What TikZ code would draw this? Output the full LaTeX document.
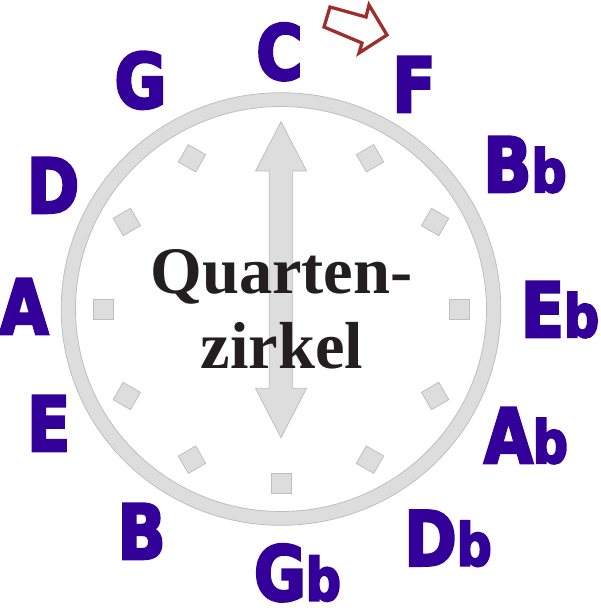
\documentclass[tikz,border=0pt]{standalone}
\usepackage{fontspec}
\setmainfont{Liberation Serif}
\newfontfamily\notefont[FakeStretch=0.83,BoldFeatures={FakeBold=3.4}]{DejaVu Sans}
\definecolor{notecol}{RGB}{51,0,153}
\definecolor{dialfill}{RGB}{221,221,221}
\definecolor{dialline}{RGB}{190,190,190}
\definecolor{hintred}{RGB}{158,45,45}
\definecolor{inkblack}{RGB}{35,31,32}
\newcommand{\flatb}{{\fontsize{59}{59}\selectfont b}}

\begin{document}
\begin{tikzpicture}[x=1pt,y=-1pt,
    dial/.style={fill=dialfill,draw=dialline,line width=0.8},
    note/.style={font=\notefont\bfseries\fontsize{76}{76}\selectfont,text=notecol,anchor=base,inner sep=0pt},
    title/.style={font=\bfseries\fontsize{66.5}{66.5}\selectfont,text=inkblack,anchor=base,inner sep=0pt},
    hint/.style={draw=hintred,line width=3.3,line join=miter}]
    \useasboundingbox (0,0) rectangle (600,608);
    % dial
    \draw[dial,even odd rule] (281,309) ellipse [x radius=219.8,y radius=216.3]
      (281,309) ellipse [x radius=205.5,y radius=202.5];
    \foreach \a in {60,30,0,330,300,270,240,210,180,150,120}
      \draw[dial,shift={({281+178*cos(\a)},{309-174*sin(\a)})},rotate=-\a]
        (-10,-10) -- (10,-10) -- (10,10) -- (-10,10) -- cycle;
    % hand
    \draw[dial] (281,121.7) -- (306.5,171) -- (292.7,171) -- (292.7,388.3)
      -- (306.5,388.3) -- (281,437.7) -- (255.5,388.3) -- (269.3,388.3)
      -- (269.3,171) -- (255.5,171) -- cycle;
    \node[title] (q1) at (281.5,293.5) {Quarten-};
    \node[title] (q2) at (282,368) {zirkel};
    % keys
    \foreach \n/\t/\x/\y in {c/C/279.5/79.5, f/F/414/112, bb/B\flatb/525/192,
        eb/E\flatb/560/337, ab/A\flatb/526/463, db/D\flatb/448/565.7,
        gb/G\flatb/297.5/600.5, b/B/141.6/559, e/E/48.6/451, a/A/24/334,
        d/D/53/213, g/G/140.5/108}
      \node[note] (k\n) at (\x,\y) {\t};
    \draw[hint] (330,7) -- (366,17) -- (369,5) -- (387,35) -- (359,53)
      -- (362,43) -- (324,27) -- cycle;
\end{tikzpicture}
\end{document}
